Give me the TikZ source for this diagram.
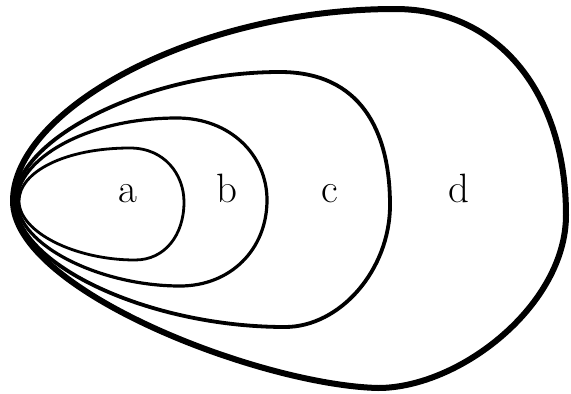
\documentclass[tikz,border=0pt]{standalone}
\begin{document}
\begin{tikzpicture}[x=1pt,y=-1pt,
  loopline/.style={draw=black, line join=round, line cap=round},
  lbl/.style={font=\fontsize{41}{41}\selectfont, inner sep=0pt, anchor=base}]
\useasboundingbox (0,0) rectangle (571,394);
\fill[white] (0,0) rectangle (571,394);
\coordinate (Pa) at (19,201);
\coordinate (Pb) at (17,201);
\coordinate (Pc) at (15,201);
\coordinate (Pd) at (13,201);
% loop a
\draw[loopline, line width=2.8pt] (Pa) .. controls (19,172) and (65,148) .. (130,148)
  .. controls (165,148) and (184,175) .. (184,202)
  .. controls (184,235) and (165,260) .. (135,260)
  .. controls (75,260) and (19,232) .. (Pa);
% loop b
\draw[loopline, line width=3.2pt] (Pb) .. controls (17,160) and (85,118) .. (177,118)
  .. controls (230,118) and (267,155) .. (267,200)
  .. controls (267,250) and (230,286) .. (180,286)
  .. controls (100,286) and (17,245) .. (Pb);
% loop c
\draw[loopline, line width=3.8pt] (Pc) .. controls (15,140) and (145,72) .. (280,72)
  .. controls (360,72) and (390,130) .. (390,205)
  .. controls (390,270) and (340,327) .. (285,327)
  .. controls (150,327) and (15,265) .. (Pc);
% loop d
\draw[loopline, line width=6pt] (Pd) .. controls (13,110) and (195,9) .. (395,9)
  .. controls (500,9) and (566,95) .. (566,215)
  .. controls (566,305) and (460,388) .. (378,388)
  .. controls (260,385) and (13,290) .. (Pd);
\node[lbl] (la) at (128,202) {a};
\node[lbl] (lb) at (227,202) {b};
\node[lbl] (lc) at (330,202) {c};
\node[lbl] (ld) at (459,202) {d};
\end{tikzpicture}
\end{document}
